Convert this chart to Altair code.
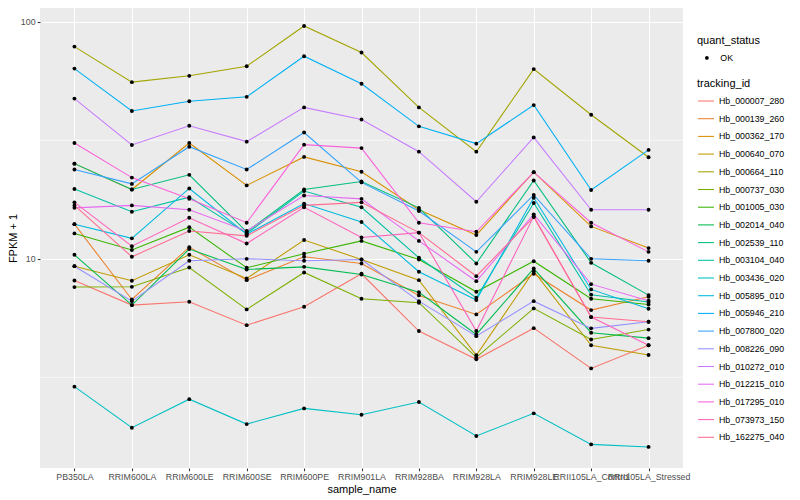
import altair as alt
import pandas as pd

samples = ["PB350LA", "RRIM600LA", "RRIM600LE", "RRIM600SE", "RRIM600PE", "RRIM901LA",
           "RRIM928BA", "RRIM928LA", "RRIM928LE", "RRII105LA_Control", "RRII105LA_Stressed"]

tracking_ids = ["Hb_000007_280", "Hb_000139_260", "Hb_000362_170", "Hb_000640_070", "Hb_000664_110",
                "Hb_000737_030", "Hb_001005_030", "Hb_002014_040", "Hb_002539_110", "Hb_003104_040",
                "Hb_003436_020", "Hb_005895_010", "Hb_005946_210", "Hb_007800_020", "Hb_008226_090",
                "Hb_010272_010", "Hb_012215_010", "Hb_017295_010", "Hb_073973_150", "Hb_162275_040"]

hue_colors = ["#F8766D", "#EA8331", "#D89000", "#C09B00", "#A3A500", "#7CAE00", "#39B600", "#00BB4E",
              "#00BF7D", "#00C1A3", "#00BFC4", "#00BAE0", "#00B0F6", "#35A2FF", "#9590FF", "#C77CFF",
              "#E76BF3", "#FA62DB", "#FF62BC", "#FF6C91"]

# FPKM + 1 per sample (order of `samples`)
hb_000007_280 = [8.10, 6.38, 6.59, 5.25, 6.28, 8.65, 4.96, 3.77, 5.10, 3.45, 4.32]
hb_000139_260 = [14.0, 6.74, 11.2, 8.13, 10.2, 9.56, 7.01, 5.83, 8.65, 6.08, 6.92]
hb_000362_170 = [25.2, 19.6, 30.8, 20.4, 26.9, 23.3, 16.1, 12.6, 23.2, 13.7, 11.1]
hb_000640_070 = [9.31, 8.08, 10.4, 8.26, 12.0, 9.93, 8.13, 3.92, 8.87, 4.32, 3.93]
hb_000664_110 = [78.5, 55.6, 59.1, 64.9, 95.9, 74.1, 43.5, 28.3, 63.1, 40.5, 26.8]
hb_000737_030 = [7.60, 7.62, 9.19, 6.12, 8.76, 6.79, 6.53, 3.84, 6.18, 4.57, 5.03]
hb_001005_030 = [12.8, 10.9, 13.6, 9.17, 10.5, 11.9, 9.93, 7.26, 9.77, 6.79, 6.42]
hb_002014_040 = [10.4, 6.38, 11.0, 9.02, 9.25, 8.59, 7.23, 4.80, 9.10, 4.88, 4.63]
hb_002539_110 = [25.2, 19.6, 22.6, 13.0, 19.6, 21.2, 16.4, 9.56, 21.4, 9.62, 7.03]
hb_003104_040 = [19.7, 15.8, 18.2, 12.8, 19.3, 16.5, 10.1, 6.85, 17.2, 7.06, 6.57]
hb_003436_020 = [2.89, 1.94, 2.56, 2.01, 2.34, 2.20, 2.49, 1.79, 2.23, 1.65, 1.61]
hb_005895_010 = [14.0, 12.2, 19.8, 12.7, 17.1, 14.3, 8.82, 6.70, 18.1, 7.43, 6.16]
hb_005946_210 = [63.4, 42.0, 46.2, 48.2, 71.5, 54.7, 36.2, 30.6, 44.5, 19.5, 28.8]
hb_007800_020 = [23.8, 20.7, 29.7, 23.8, 34.1, 21.0, 15.9, 10.7, 18.6, 10.0, 9.81]
hb_008226_090 = [9.31, 6.63, 9.81, 10.0, 9.81, 9.93, 6.63, 4.72, 6.63, 5.09, 5.43]
hb_010272_010 = [47.4, 30.2, 36.4, 31.2, 43.5, 38.7, 28.3, 17.4, 32.5, 16.1, 16.1]
hb_012215_010 = [16.4, 16.8, 16.1, 13.1, 18.5, 17.9, 11.9, 8.05, 15.4, 7.82, 6.66]
hb_017295_010 = [30.8, 22.0, 17.9, 14.2, 30.3, 29.3, 14.2, 13.0, 23.2, 14.2, 10.7]
hb_073973_150 = [17.3, 11.3, 14.9, 11.6, 16.5, 12.3, 12.9, 4.96, 15.1, 5.68, 4.32]
hb_162275_040 = [16.8, 10.2, 13.1, 12.5, 16.8, 17.3, 12.9, 8.45, 15.0, 5.68, 5.43]

series_values = [hb_000007_280, hb_000139_260, hb_000362_170, hb_000640_070, hb_000664_110,
                 hb_000737_030, hb_001005_030, hb_002014_040, hb_002539_110, hb_003104_040,
                 hb_003436_020, hb_005895_010, hb_005946_210, hb_007800_020, hb_008226_090,
                 hb_010272_010, hb_012215_010, hb_017295_010, hb_073973_150, hb_162275_040]

quant_status = "OK"
y_major_breaks = [10, 100]
y_minor_breaks = [3.1623, 31.623]

rows = []
for tid, vals in zip(tracking_ids, series_values):
    for s, v in zip(samples, vals):
        rows.append({"sample_name": s, "tracking_id": tid, "fpkm1": v, "quant_status": quant_status})
df = pd.DataFrame(rows)

x_enc = alt.X("sample_name:N", sort=samples,
              scale=alt.Scale(type="point", padding=0.6),
              axis=alt.Axis(title="sample_name", labelAngle=0, grid=True,
                            labelPadding=2.2, titlePadding=2))
y_enc = alt.Y("fpkm1:Q",
              scale=alt.Scale(type="log", domain=[1.312, 114.2], nice=False, zero=False),
              axis=alt.Axis(title="FPKM + 1", values=y_major_breaks, grid=True, format="d",
                            labelPadding=2.2, titlePadding=2))

minor = alt.Chart(pd.DataFrame({"fpkm1": y_minor_breaks})).mark_rule(
    color="white", strokeWidth=0.6).encode(y=y_enc)

lines = alt.Chart(df).mark_line(strokeWidth=1.07).encode(
    x=x_enc, y=y_enc,
    color=alt.Color("tracking_id:N",
                    scale=alt.Scale(domain=tracking_ids, range=hue_colors),
                    legend=alt.Legend(title="tracking_id", orient="none", legendX=657, legendY=70,
                                      symbolType="stroke", symbolSize=256, symbolStrokeWidth=1.07,
                                      labelOffset=4, rowPadding=3.7, titlePadding=3, padding=0)),
)

points = alt.Chart(df).mark_point(filled=True, size=15, opacity=1, color="black").encode(
    x=x_enc, y=y_enc,
    shape=alt.Shape("quant_status:N", scale=alt.Scale(range=["circle"]),
                    legend=alt.Legend(title="quant_status", orient="none", legendX=657, legendY=27,
                                      symbolSize=14, symbolFillColor="black", symbolStrokeColor="black",
                                      symbolOffset=5.5, labelOffset=9, titlePadding=7.5, padding=0)),
)

chart = alt.layer(minor, lines, points).properties(
    width=643, height=460,
    padding={"left": 32, "top": 0, "right": 109, "bottom": 32},
    autosize=alt.AutoSizeParams(type="none"),
).configure_view(
    fill="#EBEBEB", strokeWidth=0
).configure_axis(
    labelFont="Liberation Sans", labelFontSize=8.8, labelColor="#4D4D4D",
    titleFont="Liberation Sans", titleFontSize=11, titleColor="black", titleFontWeight="normal",
    domain=False, tickColor="#333333", tickSize=2.75, tickWidth=1.07,
    gridColor="white", gridWidth=1.07,
).configure_legend(
    labelFont="Liberation Sans", labelFontSize=8.8, labelColor="black",
    titleFont="Liberation Sans", titleFontSize=11, titleColor="black", titleFontWeight="normal",
)

chart.save("out.html", embed_options={"renderer": "svg", "actions": False})
